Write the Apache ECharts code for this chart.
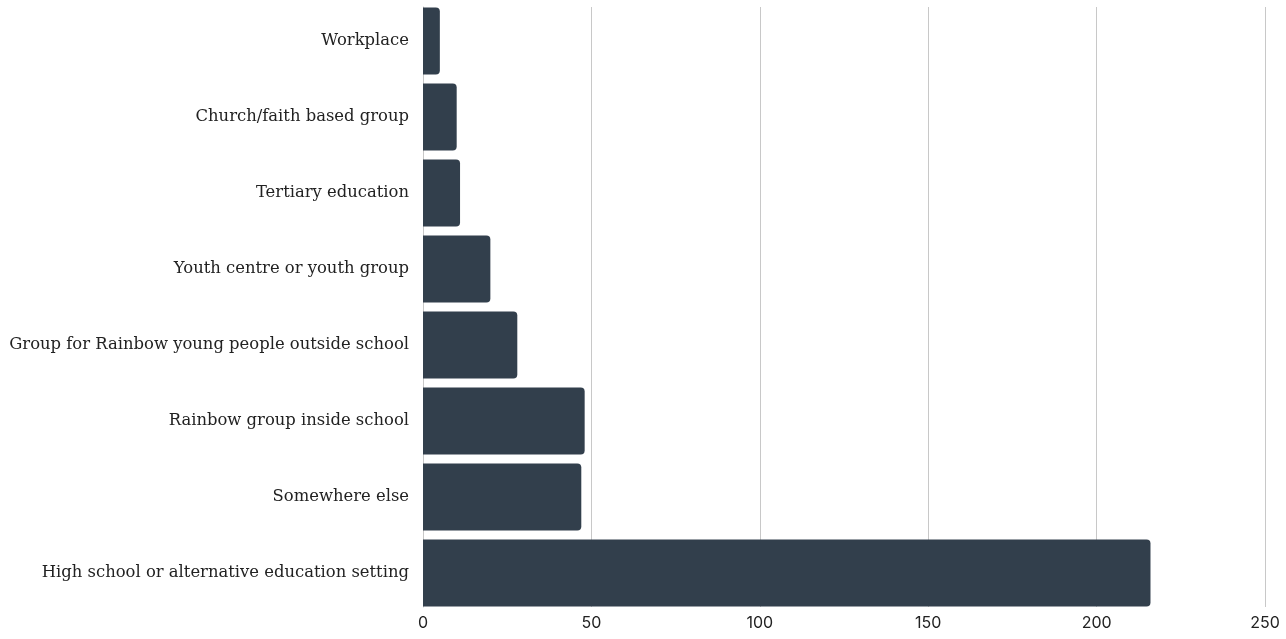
<!DOCTYPE html>
<html>
<head>
<meta charset="utf-8">
<script src="https://cdn.jsdelivr.net/npm/echarts@6/dist/echarts.min.js"></script>
<style>
  html, body { margin: 0; padding: 0; background: #fff; }
  #main { width: 1286px; height: 639px; }
</style>
</head>
<body>
<div id="main"></div>
<script>
// bottom to top
var categories = [
  'High school or alternative education setting',
  'Somewhere else',
  'Rainbow group inside school',
  'Group for Rainbow young people outside school',
  'Youth centre or youth group',
  'Tertiary education',
  'Church/faith based group',
  'Workplace'
];
var values = [216, 47, 48, 28, 20, 11, 10, 5];
var xTicks = [0, 50, 100, 150, 200, 250];

var chart = echarts.init(document.getElementById('main'), null, { renderer: 'canvas' });

var xMin = xTicks[0];
var xMax = xTicks[xTicks.length - 1];

var option = {
  animation: false,
  grid: [
    // gridlines + axis line
    { left: 423, right: 21, top: 7, bottom: 32 },
    // bars + category labels (bars reach the gridline ends)
    { left: 423, right: 21, top: 3, bottom: 28 }
  ],
  xAxis: [
    {
      gridIndex: 0,
      type: 'value',
      min: xMin,
      max: xMax,
      interval: 50,
      axisLine: { show: false },
      axisTick: { show: false },
      splitLine: { show: true, lineStyle: { color: '#c8c8c8', width: 1 } },
      axisLabel: {
        color: '#222',
        fontFamily: 'Inter',
        fontSize: 16,
        margin: 8
      }
    },
    {
      gridIndex: 1,
      type: 'value',
      min: xMin,
      max: xMax,
      show: false
    }
  ],
  yAxis: [
    {
      gridIndex: 0,
      type: 'category',
      data: categories,
      axisLine: { show: true, lineStyle: { color: '#c8c8c8', width: 1 } },
      axisTick: { show: false },
      axisLabel: { show: false }
    },
    {
      gridIndex: 1,
      type: 'category',
      data: categories,
      axisLine: { show: false },
      axisTick: { show: false },
      axisLabel: {
        color: '#222',
        fontFamily: 'DejaVu Serif',
        fontSize: 16.4,
        margin: 14,
        padding: [4, 0, 0, 0]
      }
    }
  ],
  series: [
    {
      type: 'bar',
      xAxisIndex: 1,
      yAxisIndex: 1,
      data: values,
      barCategoryGap: '12%',
      itemStyle: {
        color: '#323f4c',
        borderRadius: [0, 4, 4, 0]
      }
    }
  ]
};

chart.setOption(option);
</script>
</body>
</html>
